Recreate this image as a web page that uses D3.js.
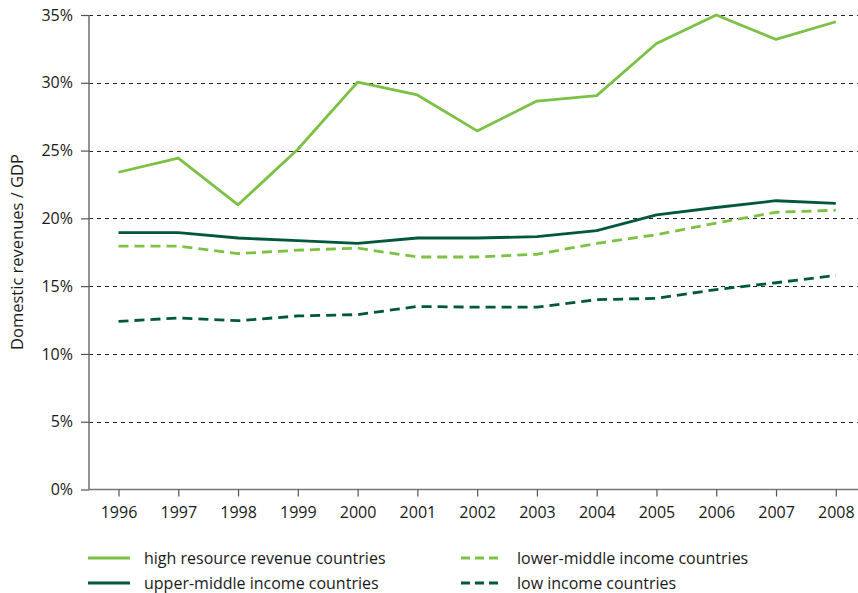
<!DOCTYPE html>
<html>
<head>
<meta charset="utf-8">
<script src="https://cdn.jsdelivr.net/npm/d3@7"></script>
<style>
  html, body { margin: 0; padding: 0; background: #fff; }
  svg { display: block; }
  text { font-family: "Open Sans", sans-serif; fill: #1a1a1a; }
</style>
</head>
<body>
<svg id="chart" width="858" height="593"></svg>
<script>
const years = [1996, 1997, 1998, 1999, 2000, 2001, 2002, 2003, 2004, 2005, 2006, 2007, 2008];
const highResource = [23.4, 24.45, 21.0, 25.1, 30.05, 29.1, 26.45, 28.65, 29.05, 32.9, 35.0, 33.2, 34.5];
const upperMiddle  = [18.95, 18.95, 18.55, 18.35, 18.15, 18.55, 18.55, 18.65, 19.1, 20.25, 20.8, 21.3, 21.1];
const lowerMiddle  = [17.95, 17.95, 17.4, 17.65, 17.8, 17.15, 17.15, 17.35, 18.15, 18.8, 19.65, 20.45, 20.6];
const lowIncome    = [12.4, 12.65, 12.45, 12.8, 12.9, 13.5, 13.45, 13.45, 14.0, 14.1, 14.75, 15.25, 15.8];
const yTicks = [0, 5, 10, 15, 20, 25, 30, 35];
const seriesNames = ["high resource revenue countries", "upper-middle income countries",
                     "lower-middle income countries", "low income countries"];

const LIGHT = "#7bc143", DARK = "#00583b";
const series = [
  { name: seriesNames[0], values: highResource, color: LIGHT, dash: null },
  { name: seriesNames[1], values: upperMiddle,  color: DARK,  dash: null },
  { name: seriesNames[2], values: lowerMiddle,  color: LIGHT, dash: "10,6" },
  { name: seriesNames[3], values: lowIncome,    color: DARK,  dash: "10,6" }
];

const svg = d3.select("#chart");
const M = { left: 89, right: 858, top: 15, bottom: 489.5 };

const x = d3.scaleLinear().domain([1996, 2008]).range([118.5, 835.8]);
const y = d3.scaleLinear().domain([0, 35]).range([M.bottom, M.top]);

// gridlines
svg.append("g").selectAll("line").data(yTicks.filter(d => d > 0)).join("line")
  .attr("x1", M.left).attr("x2", M.right)
  .attr("y1", d => Math.round(y(d)) + 0.5).attr("y2", d => Math.round(y(d)) + 0.5)
  .attr("stroke", "#222").attr("stroke-width", 1).attr("stroke-dasharray", "4,4");

// y axis
const yAxis = d3.axisLeft(y).tickValues(yTicks).tickFormat(d => d + "%").tickSize(8).tickPadding(8);
const gy = svg.append("g").attr("transform", `translate(${M.left},0)`).call(yAxis);
gy.select(".domain").attr("stroke", "#777").attr("stroke-width", 1.6).attr("d", `M0,${M.top}V${M.bottom}`);
gy.selectAll(".tick line").attr("stroke", "#555").attr("stroke-width", 1.2);
gy.selectAll(".tick text").style("font-family", "Open Sans").style("font-size", "16px").attr("fill", "#1a1a1a");

// x axis
const xAxis = d3.axisBottom(x).tickValues(years).tickFormat(d3.format("d")).tickSize(7).tickPadding(10);
const gx = svg.append("g").attr("transform", `translate(0,${M.bottom})`).call(xAxis);
gx.select(".domain").attr("stroke", "#777").attr("stroke-width", 1.6).attr("d", `M${M.left},0H${M.right}`);
gx.selectAll(".tick line").attr("stroke", "#555").attr("stroke-width", 1.2);
gx.selectAll(".tick text").style("font-family", "Open Sans").style("font-size", "16px").attr("fill", "#1a1a1a");

// y label
svg.append("text")
  .attr("transform", "translate(23,252) rotate(-90)")
  .attr("text-anchor", "middle")
  .style("font-size", "16.5px")
  .text("Domestic revenues / GDP");

// lines
const line = d3.line().x((d, i) => x(years[i])).y(d => y(d));
svg.append("g").selectAll("path").data(series).join("path")
  .attr("d", d => line(d.values))
  .attr("fill", "none")
  .attr("stroke", d => d.color)
  .attr("stroke-width", 2.8)
  .attr("stroke-dasharray", d => d.dash)
  .attr("stroke-linejoin", "round");

// legend
const legendPos = [
  { x: 88, y: 558 }, { x: 88, y: 583 }, { x: 461, y: 558 }, { x: 461, y: 583 }
];
const lg = svg.append("g").selectAll("g").data(series).join("g")
  .attr("transform", (d, i) => `translate(${legendPos[i].x},${legendPos[i].y})`);
lg.append("line").attr("x1", 0).attr("x2", 42).attr("y1", 0).attr("y2", 0)
  .attr("stroke", d => d.color).attr("stroke-width", 2.8)
  .attr("stroke-dasharray", d => d.dash ? "9,5" : null);
lg.append("text").attr("x", 56).attr("y", 0).attr("dy", "0.35em")
  .style("font-size", "16px").text(d => d.name);
</script>
</body>
</html>
